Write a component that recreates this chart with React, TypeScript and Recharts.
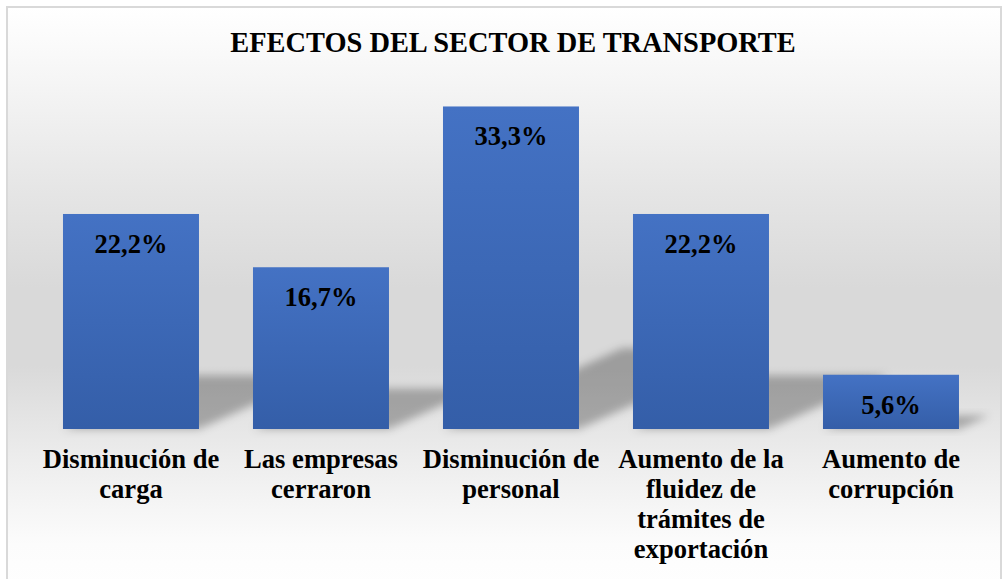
import { BarChart, Bar, XAxis, YAxis, LabelList } from 'recharts';

const categories = [
  'Disminución de\ncarga',
  'Las empresas\ncerraron',
  'Disminución de\npersonal',
  'Aumento de la\nfluidez de\ntrámites de\nexportación',
  'Aumento de\ncorrupción',
];
const percentages = [22.2, 16.7, 33.3, 22.2, 5.6];
const title = 'EFECTOS DEL SECTOR DE TRANSPORTE';

const data = categories.map((name, i) => ({ name, value: percentages[i] }));

const FONT = '"Liberation Serif", "Times New Roman", serif';

interface TickProps {
  x?: number;
  y?: number;
  payload?: { value: string };
}

function CategoryTick({ x = 0, y = 0, payload }: TickProps) {
  const lines = (payload?.value ?? '').split('\n');
  return (
    <g>
      {lines.map((line, i) => (
        <text
          key={i}
          x={x}
          y={y + 39 + i * 30}
          textAnchor="middle"
          style={{ fontFamily: FONT, fontWeight: 700, fontSize: 26.6 }}
          fill="#000"
        >
          {line}
        </text>
      ))}
    </g>
  );
}

interface ShapeProps {
  x?: number;
  y?: number;
  width?: number;
  height?: number;
}

// bar with a soft perspective shadow leaning to the upper right
function ShadowBar({ x = 0, y = 0, width = 0, height = 0 }: ShapeProps) {
  const base = y + height;
  const sh = height * 0.25;
  const dx = sh / 0.45;
  const pts = [
    `${x},${base}`,
    `${x + width},${base}`,
    `${x + width + dx},${base - sh}`,
    `${x + dx},${base - sh}`,
  ].join(' ');
  return (
    <g>
      <polygon points={pts} fill="#000" fillOpacity={0.28} filter="url(#barShadow)" />
      <rect x={x} y={y} width={width} height={height} fill="url(#barFill)" />
    </g>
  );
}

interface LabelProps {
  x?: number | string;
  y?: number | string;
  width?: number | string;
  value?: number | string;
}

function ValueLabel({ x = 0, y = 0, width = 0, value }: LabelProps) {
  const cx = Number(x) + Number(width) / 2;
  const txt = Number(value).toFixed(1).replace('.', ',') + '%';
  return (
    <text
      x={cx}
      y={Number(y) + 39}
      textAnchor="middle"
      style={{ fontFamily: FONT, fontWeight: 700, fontSize: 26.5 }}
      fill="#000"
    >
      {txt}
    </text>
  );
}

export default function App() {
  return (
    <div
      style={{
        position: 'absolute',
        left: 0,
        top: 0,
        width: 1003,
        height: 579,
        overflow: 'hidden',
        background: '#fff',
      }}
    >
      <div
        style={{
          position: 'absolute',
          left: 6,
          top: 6,
          width: 996,
          height: 600,
          boxSizing: 'border-box',
          border: '2px solid #d9d9d9',
          background:
            'linear-gradient(to bottom, #ffffff 0%, #f8f8f8 9%, #e6e6e6 30%, #d9d9d9 47%, #d9d9d9 60%, #ececec 75%, #fcfcfc 90%, #ffffff 100%)',
        }}
      />
      <svg
        width={1003}
        height={70}
        style={{ position: 'absolute', left: 0, top: 0 }}
      >
        <text
          x={513}
          y={52}
          textAnchor="middle"
          style={{ fontFamily: FONT, fontWeight: 700, fontSize: 28.4 }}
          fill="#000"
        >
          {title}
        </text>
      </svg>
      <div style={{ position: 'absolute', left: 0, top: 0 }}>
        <BarChart
          width={1003}
          height={579}
          data={data}
          margin={{ top: 90, right: 17, left: 36, bottom: 10 }}
          barCategoryGap="14.2%"
        >
          <defs>
            <linearGradient id="barFill" x1="0" y1="0" x2="0" y2="1">
              <stop offset="0%" stopColor="#4472c4" />
              <stop offset="100%" stopColor="#345ea8" />
            </linearGradient>
            <filter id="barShadow" x="-50%" y="-50%" width="200%" height="200%">
              <feGaussianBlur stdDeviation="4" />
            </filter>
          </defs>
          <XAxis
            dataKey="name"
            interval={0}
            axisLine={false}
            tickLine={false}
            tickSize={0}
            tickMargin={0}
            height={140}
            tick={<CategoryTick />}
          />
          <YAxis hide domain={[0, 35]} />
          <Bar dataKey="value" shape={<ShadowBar />} isAnimationActive={false}>
            <LabelList dataKey="value" content={<ValueLabel />} />
          </Bar>
        </BarChart>
      </div>
    </div>
  );
}
